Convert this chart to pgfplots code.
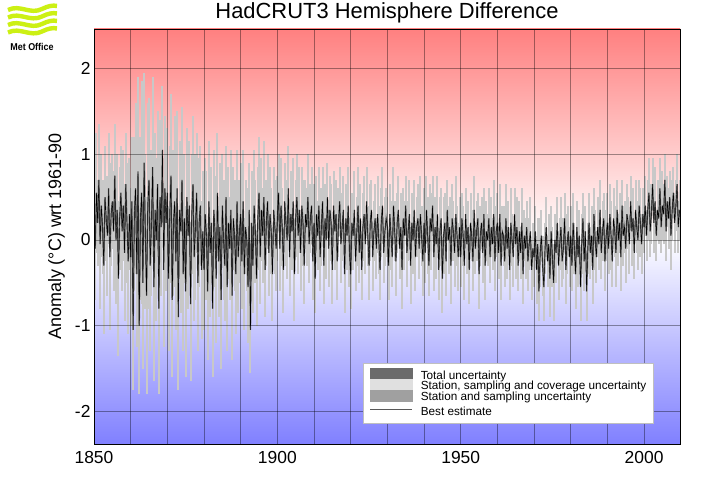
\documentclass[border=0pt]{standalone}
\usepackage{pgfplots}
\pgfplotsset{compat=1.18}
\usepackage{pgfplotstable}
\usepackage{fontspec}
\setmainfont{Liberation Sans}

\definecolor{topred}{RGB}{255,128,128}
\definecolor{botblue}{RGB}{128,128,255}
\definecolor{metlime}{RGB}{204,240,20}
\definecolor{bandlight}{RGB}{200,200,200}
\definecolor{legtotal}{RGB}{107,107,107}
\definecolor{legcover}{RGB}{224,224,224}
\definecolor{legstation}{RGB}{160,160,160}

% hemisphere difference, read every 4 months: year, best estimate, half width of uncertainty
\pgfplotstableread[row sep=\\]{
x y e\\
1850.00 0.35 0.55\\ 1850.33 -0.10 0.60\\ 1850.67 0.55 0.70\\
1851.00 0.20 0.50\\ 1851.33 0.70 0.65\\ 1851.67 -0.05 0.75\\
1852.00 0.40 0.60\\ 1852.33 0.15 0.55\\ 1852.67 -0.30 0.80\\
1853.00 0.50 0.60\\ 1853.33 0.25 0.50\\ 1853.67 0.05 0.70\\
1854.00 0.60 0.65\\ 1854.33 -0.20 0.85\\ 1854.67 0.30 0.60\\
1855.00 0.45 0.55\\ 1855.33 0.10 0.70\\ 1855.67 0.75 0.60\\
1856.00 0.00 0.75\\ 1856.33 0.35 0.65\\ 1856.67 -0.45 0.90\\
1857.00 0.25 0.60\\ 1857.33 0.55 0.55\\ 1857.67 0.10 0.70\\
1858.00 0.40 0.65\\ 1858.33 -0.15 0.80\\ 1858.67 0.65 0.60\\
1859.00 0.20 0.70\\ 1859.33 -0.25 0.85\\ 1859.67 0.30 0.65\\
1860.00 -0.20 0.80\\ 1860.33 0.45 0.75\\ 1860.67 -1.05 0.70\\
1861.00 0.30 0.90\\ 1861.33 0.60 1.00\\ 1861.67 -0.40 0.85\\
1862.00 0.80 1.10\\ 1862.33 -1.00 0.80\\ 1862.67 0.25 0.95\\
1863.00 0.55 1.30\\ 1863.33 -0.50 1.00\\ 1863.67 0.90 1.05\\
1864.00 0.10 0.90\\ 1864.33 -0.65 1.15\\ 1864.67 0.40 1.20\\
1865.00 0.70 0.95\\ 1865.33 -0.30 1.00\\ 1865.67 0.20 0.85\\
1866.00 0.85 1.05\\ 1866.33 -0.55 1.10\\ 1866.67 0.35 0.90\\
1867.00 0.00 0.95\\ 1867.33 0.65 0.85\\ 1867.67 -0.80 1.00\\
1868.00 0.50 0.90\\ 1868.33 0.15 0.80\\ 1868.67 1.05 0.75\\
1869.00 -0.35 0.90\\ 1869.33 0.60 0.85\\ 1869.67 0.20 0.80\\
1870.00 0.55 0.75\\ 1870.33 -0.45 0.85\\ 1870.67 0.30 0.80\\
1871.00 0.75 0.95\\ 1871.33 -0.70 0.90\\ 1871.67 0.20 0.85\\
1872.00 0.45 1.00\\ 1872.33 -0.25 0.80\\ 1872.67 0.60 0.90\\
1873.00 -0.90 0.85\\ 1873.33 0.35 0.80\\ 1873.67 0.10 0.95\\
1874.00 0.70 0.85\\ 1874.33 -0.40 0.90\\ 1874.67 0.25 0.75\\
1875.00 -0.60 1.00\\ 1875.33 0.50 0.80\\ 1875.67 0.05 0.85\\
1876.00 0.40 0.75\\ 1876.33 -0.75 0.90\\ 1876.67 0.30 0.70\\
1877.00 0.65 0.80\\ 1877.33 -0.20 0.75\\ 1877.67 0.15 0.85\\
1878.00 0.55 0.70\\ 1878.33 -0.50 0.80\\ 1878.67 0.20 0.75\\
1879.00 0.40 0.70\\ 1879.33 -0.35 0.80\\ 1879.67 0.10 0.70\\
1880.00 -0.35 0.70\\ 1880.33 0.30 0.65\\ 1880.67 0.05 0.75\\
1881.00 -0.60 0.80\\ 1881.33 0.45 0.70\\ 1881.67 -0.15 0.75\\
1882.00 0.20 0.65\\ 1882.33 -0.80 0.80\\ 1882.67 0.35 0.70\\
1883.00 0.10 0.65\\ 1883.33 -0.45 0.75\\ 1883.67 0.55 0.70\\
1884.00 -0.25 0.65\\ 1884.33 0.15 0.75\\ 1884.67 -0.70 0.80\\
1885.00 0.40 0.60\\ 1885.33 0.00 0.70\\ 1885.67 -0.30 0.65\\
1886.00 0.50 0.60\\ 1886.33 -0.55 0.75\\ 1886.67 0.20 0.65\\
1887.00 -0.10 0.60\\ 1887.33 0.35 0.70\\ 1887.67 -0.65 0.75\\
1888.00 0.25 0.60\\ 1888.33 0.05 0.65\\ 1888.67 -0.40 0.70\\
1889.00 0.45 0.60\\ 1889.33 -0.20 0.65\\ 1889.67 0.10 0.60\\
1890.00 0.30 0.60\\ 1890.33 -0.25 0.55\\ 1890.67 0.45 0.60\\
1891.00 -0.40 0.65\\ 1891.33 0.15 0.55\\ 1891.67 0.00 0.60\\
1892.00 -0.55 0.65\\ 1892.33 0.35 0.55\\ 1892.67 -1.05 0.50\\
1893.00 0.20 0.60\\ 1893.33 -0.30 0.55\\ 1893.67 0.40 0.65\\
1894.00 0.10 0.60\\ 1894.33 -0.45 0.55\\ 1894.67 0.25 0.60\\
1895.00 0.55 0.65\\ 1895.33 -0.20 0.55\\ 1895.67 0.35 0.60\\
1896.00 0.05 0.55\\ 1896.33 0.50 0.65\\ 1896.67 -0.35 0.55\\
1897.00 0.20 0.50\\ 1897.33 0.45 0.55\\ 1897.67 -0.15 0.50\\
1898.00 0.30 0.55\\ 1898.33 0.10 0.50\\ 1898.67 -0.40 0.55\\
1899.00 0.35 0.50\\ 1899.33 0.15 0.55\\ 1899.67 -0.10 0.50\\
1900.00 0.25 0.50\\ 1900.33 0.55 0.45\\ 1900.67 -0.10 0.50\\
1901.00 0.40 0.55\\ 1901.33 0.15 0.45\\ 1901.67 -0.35 0.50\\
1902.00 0.45 0.45\\ 1902.33 0.20 0.50\\ 1902.67 0.00 0.45\\
1903.00 0.60 0.50\\ 1903.33 -0.20 0.45\\ 1903.67 0.30 0.50\\
1904.00 0.10 0.45\\ 1904.33 0.45 0.50\\ 1904.67 -0.40 0.55\\
1905.00 0.25 0.45\\ 1905.33 0.50 0.50\\ 1905.67 0.05 0.45\\
1906.00 0.35 0.50\\ 1906.33 -0.15 0.45\\ 1906.67 0.40 0.45\\
1907.00 0.20 0.50\\ 1907.33 -0.30 0.45\\ 1907.67 0.30 0.40\\
1908.00 0.15 0.45\\ 1908.33 0.50 0.50\\ 1908.67 -0.05 0.45\\
1909.00 0.25 0.40\\ 1909.33 0.40 0.45\\ 1909.67 -0.25 0.45\\
1910.00 0.20 0.45\\ 1910.33 -0.45 0.40\\ 1910.67 0.30 0.45\\
1911.00 0.05 0.40\\ 1911.33 0.40 0.45\\ 1911.67 -0.20 0.40\\
1912.00 0.15 0.45\\ 1912.33 0.45 0.40\\ 1912.67 -0.30 0.45\\
1913.00 0.25 0.40\\ 1913.33 0.00 0.45\\ 1913.67 0.50 0.40\\
1914.00 -0.10 0.45\\ 1914.33 0.35 0.40\\ 1914.67 0.20 0.45\\
1915.00 -0.35 0.40\\ 1915.33 0.40 0.40\\ 1915.67 0.10 0.45\\
1916.00 0.30 0.40\\ 1916.33 -0.25 0.45\\ 1916.67 0.20 0.40\\
1917.00 0.45 0.40\\ 1917.33 -0.05 0.45\\ 1917.67 0.15 0.40\\
1918.00 0.35 0.40\\ 1918.33 -0.40 0.45\\ 1918.67 0.25 0.40\\
1919.00 0.05 0.40\\ 1919.33 0.40 0.45\\ 1919.67 -0.15 0.40\\
1920.00 -0.40 0.40\\ 1920.33 0.20 0.35\\ 1920.67 0.05 0.40\\
1921.00 0.35 0.45\\ 1921.33 -0.25 0.35\\ 1921.67 0.10 0.40\\
1922.00 0.40 0.45\\ 1922.33 -0.15 0.35\\ 1922.67 0.25 0.40\\
1923.00 -0.35 0.35\\ 1923.33 0.15 0.40\\ 1923.67 0.30 0.45\\
1924.00 -0.05 0.35\\ 1924.33 0.45 0.40\\ 1924.67 0.05 0.35\\
1925.00 -0.30 0.40\\ 1925.33 0.20 0.45\\ 1925.67 0.35 0.35\\
1926.00 -0.20 0.40\\ 1926.33 0.10 0.35\\ 1926.67 0.25 0.40\\
1927.00 -0.10 0.35\\ 1927.33 0.30 0.45\\ 1927.67 0.00 0.40\\
1928.00 -0.35 0.35\\ 1928.33 0.20 0.40\\ 1928.67 0.40 0.45\\
1929.00 -0.15 0.35\\ 1929.33 0.10 0.40\\ 1929.67 0.25 0.35\\
1930.00 0.15 0.35\\ 1930.33 -0.30 0.40\\ 1930.67 0.30 0.35\\
1931.00 0.05 0.40\\ 1931.33 -0.20 0.35\\ 1931.67 0.40 0.45\\
1932.00 0.10 0.35\\ 1932.33 -0.25 0.40\\ 1932.67 0.20 0.35\\
1933.00 0.35 0.40\\ 1933.33 -0.10 0.35\\ 1933.67 0.15 0.40\\
1934.00 -0.35 0.45\\ 1934.33 0.25 0.35\\ 1934.67 0.05 0.40\\
1935.00 0.40 0.35\\ 1935.33 -0.15 0.40\\ 1935.67 0.10 0.35\\
1936.00 0.30 0.40\\ 1936.33 -0.30 0.45\\ 1936.67 0.20 0.35\\
1937.00 0.00 0.40\\ 1937.33 0.35 0.35\\ 1937.67 -0.20 0.40\\
1938.00 0.15 0.35\\ 1938.33 0.25 0.40\\ 1938.67 -0.10 0.35\\
1939.00 0.30 0.45\\ 1939.33 0.05 0.35\\ 1939.67 -0.25 0.40\\
1940.00 0.20 0.40\\ 1940.33 -0.15 0.35\\ 1940.67 0.35 0.40\\
1941.00 0.05 0.45\\ 1941.33 -0.30 0.35\\ 1941.67 0.25 0.40\\
1942.00 0.10 0.45\\ 1942.33 0.40 0.35\\ 1942.67 -0.20 0.40\\
1943.00 0.15 0.35\\ 1943.33 -0.05 0.40\\ 1943.67 0.30 0.45\\
1944.00 -0.35 0.35\\ 1944.33 0.10 0.40\\ 1944.67 0.25 0.35\\
1945.00 -0.45 0.40\\ 1945.33 0.05 0.45\\ 1945.67 0.20 0.35\\
1946.00 -0.25 0.40\\ 1946.33 0.35 0.35\\ 1946.67 0.00 0.40\\
1947.00 0.15 0.35\\ 1947.33 -0.30 0.45\\ 1947.67 0.25 0.40\\
1948.00 0.10 0.35\\ 1948.33 -0.15 0.40\\ 1948.67 0.30 0.45\\
1949.00 0.05 0.35\\ 1949.33 -0.20 0.40\\ 1949.67 0.15 0.35\\
1950.00 -0.20 0.35\\ 1950.33 0.25 0.30\\ 1950.67 0.05 0.35\\
1951.00 -0.30 0.40\\ 1951.33 0.30 0.30\\ 1951.67 -0.05 0.35\\
1952.00 0.15 0.30\\ 1952.33 -0.35 0.40\\ 1952.67 0.20 0.35\\
1953.00 0.05 0.30\\ 1953.33 -0.25 0.35\\ 1953.67 0.35 0.40\\
1954.00 -0.10 0.30\\ 1954.33 0.10 0.35\\ 1954.67 0.25 0.30\\
1955.00 -0.40 0.40\\ 1955.33 0.05 0.35\\ 1955.67 0.20 0.30\\
1956.00 -0.15 0.35\\ 1956.33 0.30 0.30\\ 1956.67 -0.30 0.40\\
1957.00 0.10 0.35\\ 1957.33 0.00 0.30\\ 1957.67 0.25 0.35\\
1958.00 -0.20 0.30\\ 1958.33 0.15 0.35\\ 1958.67 -0.05 0.30\\
1959.00 0.30 0.40\\ 1959.33 -0.25 0.35\\ 1959.67 0.10 0.30\\
1960.00 0.20 0.35\\ 1960.33 -0.15 0.30\\ 1960.67 0.30 0.35\\
1961.00 -0.30 0.40\\ 1961.33 0.10 0.30\\ 1961.67 0.05 0.35\\
1962.00 -0.25 0.30\\ 1962.33 0.25 0.40\\ 1962.67 -0.10 0.35\\
1963.00 0.15 0.30\\ 1963.33 -0.35 0.35\\ 1963.67 0.20 0.40\\
1964.00 0.00 0.30\\ 1964.33 -0.20 0.35\\ 1964.67 0.30 0.30\\
1965.00 -0.05 0.40\\ 1965.33 0.15 0.35\\ 1965.67 -0.30 0.30\\
1966.00 0.10 0.35\\ 1966.33 -0.15 0.30\\ 1966.67 0.20 0.40\\
1967.00 -0.40 0.35\\ 1967.33 0.05 0.30\\ 1967.67 -0.10 0.35\\
1968.00 0.15 0.30\\ 1968.33 -0.25 0.35\\ 1968.67 -0.05 0.30\\
1969.00 0.10 0.40\\ 1969.33 -0.35 0.35\\ 1969.67 -0.10 0.30\\
1970.00 -0.20 0.35\\ 1970.33 0.10 0.30\\ 1970.67 -0.35 0.40\\
1971.00 -0.05 0.30\\ 1971.33 -0.60 0.35\\ 1971.67 -0.15 0.40\\
1972.00 0.05 0.30\\ 1972.33 -0.30 0.35\\ 1972.67 -0.55 0.40\\
1973.00 -0.10 0.30\\ 1973.33 0.15 0.35\\ 1973.67 -0.25 0.30\\
1974.00 -0.05 0.35\\ 1974.33 -0.45 0.45\\ 1974.67 0.10 0.30\\
1975.00 -0.20 0.35\\ 1975.33 -0.50 0.45\\ 1975.67 0.00 0.30\\
1976.00 -0.15 0.35\\ 1976.33 0.20 0.30\\ 1976.67 -0.30 0.40\\
1977.00 -0.05 0.30\\ 1977.33 0.15 0.35\\ 1977.67 -0.25 0.30\\
1978.00 -0.10 0.35\\ 1978.33 0.25 0.30\\ 1978.67 -0.35 0.40\\
1979.00 -0.05 0.35\\ 1979.33 0.10 0.30\\ 1979.67 -0.20 0.35\\
1980.00 0.05 0.35\\ 1980.33 -0.30 0.30\\ 1980.67 0.20 0.35\\
1981.00 -0.10 0.30\\ 1981.33 -0.40 0.40\\ 1981.67 0.15 0.30\\
1982.00 -0.20 0.35\\ 1982.33 0.05 0.30\\ 1982.67 -0.55 0.40\\
1983.00 -0.05 0.35\\ 1983.33 0.25 0.30\\ 1983.67 -0.25 0.35\\
1984.00 0.10 0.30\\ 1984.33 -0.60 0.35\\ 1984.67 -0.10 0.30\\
1985.00 0.20 0.35\\ 1985.33 -0.15 0.30\\ 1985.67 0.05 0.35\\
1986.00 -0.35 0.40\\ 1986.33 0.30 0.30\\ 1986.67 0.00 0.35\\
1987.00 -0.20 0.30\\ 1987.33 0.15 0.35\\ 1987.67 -0.05 0.30\\
1988.00 0.35 0.35\\ 1988.33 -0.15 0.30\\ 1988.67 0.10 0.35\\
1989.00 0.25 0.30\\ 1989.33 -0.25 0.35\\ 1989.67 0.05 0.30\\
1990.00 0.20 0.35\\ 1990.33 -0.10 0.30\\ 1990.67 0.30 0.35\\
1991.00 0.05 0.40\\ 1991.33 -0.25 0.30\\ 1991.67 0.25 0.35\\
1992.00 0.10 0.30\\ 1992.33 -0.15 0.40\\ 1992.67 0.35 0.35\\
1993.00 0.00 0.30\\ 1993.33 0.20 0.35\\ 1993.67 -0.20 0.40\\
1994.00 0.40 0.30\\ 1994.33 0.05 0.35\\ 1994.67 0.15 0.30\\
1995.00 -0.10 0.40\\ 1995.33 0.30 0.35\\ 1995.67 0.20 0.30\\
1996.00 -0.05 0.35\\ 1996.33 0.45 0.30\\ 1996.67 0.10 0.40\\
1997.00 0.25 0.35\\ 1997.33 -0.15 0.30\\ 1997.67 0.35 0.35\\
1998.00 0.15 0.30\\ 1998.33 0.00 0.35\\ 1998.67 0.40 0.30\\
1999.00 0.20 0.40\\ 1999.33 -0.05 0.35\\ 1999.67 0.30 0.30\\
2000.00 0.15 0.30\\ 2000.33 0.40 0.35\\ 2000.67 0.05 0.30\\
2001.00 0.35 0.35\\ 2001.33 0.55 0.40\\ 2001.67 0.10 0.30\\
2002.00 0.30 0.35\\ 2002.33 0.65 0.30\\ 2002.67 0.20 0.35\\
2003.00 0.45 0.40\\ 2003.33 0.05 0.30\\ 2003.67 0.35 0.35\\
2004.00 0.25 0.30\\ 2004.33 0.60 0.35\\ 2004.67 0.15 0.30\\
2005.00 0.40 0.40\\ 2005.33 0.30 0.35\\ 2005.67 0.70 0.30\\
2006.00 0.10 0.35\\ 2006.33 0.45 0.30\\ 2006.67 0.25 0.35\\
2007.00 0.50 0.30\\ 2007.33 0.05 0.40\\ 2007.67 0.35 0.35\\
2008.00 0.55 0.30\\ 2008.33 0.20 0.35\\ 2008.67 0.40 0.30\\
2009.00 0.65 0.35\\ 2009.33 0.15 0.30\\ 2009.67 0.35 0.35\\
}\hemdiff

\begin{document}
\begin{tikzpicture}
\useasboundingbox (0,0) rectangle (708bp,504bp);

% Met Office logo
\begin{scope}[metlime, line width=4.4bp]
\foreach \yy in {494,486.5,479,471.5}{
  \draw (8bp,\yy bp) .. controls (20bp,\yy bp+6bp) and (30bp,\yy bp-5bp) .. (42bp,\yy bp+1bp)
        .. controls (48bp,\yy bp+4bp) and (53bp,\yy bp+5bp) .. (57bp,\yy bp+4bp);
}
\end{scope}
\node[font=\bfseries\fontsize{10}{11}\selectfont, inner sep=0pt, xscale=0.9] at (32bp,457bp) {Met Office};

\begin{axis}[
    at={(94bp,60bp)}, anchor=south west,
    scale only axis, width=586bp, height=415bp,
    xmin=1850, xmax=2009.8,
    ymin=-2.38, ymax=2.46,
    xtick={1850,1900,1950,2000},
    minor xtick={1860,1870,1880,1890,1910,1920,1930,1940,1960,1970,1980,1990},
    ytick={-2,-1,0,1,2},
    xmajorgrids, xminorgrids, ymajorgrids,
    grid style={draw=black, opacity=0.38, line width=0.6bp},
    minor grid style={draw=black, opacity=0.38, line width=0.6bp},
    major tick length=0pt, minor tick length=0pt,
    axis line style={black, line width=0.8bp},
    axis on top,
    axis background/.style={top color=topred, bottom color=botblue, middle color=white},
    /pgf/number format/assume math mode=true,
    /pgf/number format/1000 sep={},
    ticklabel style={font=\fontsize{17.5}{20}\selectfont},
    xticklabel style={yshift=-4bp},
    title={HadCRUT3 Hemisphere Difference},
    every axis title/.style={font=\fontsize{22}{26}\selectfont, at={(0.5,1)}, anchor=base, yshift=10bp},
    ylabel={Anomaly (°C) wrt 1961-90},
    ylabel style={font=\fontsize{18}{20}\selectfont, at={(axis description cs:-0.0563,0.5)}, anchor=base},
    legend style={at={(0.459,0.05)}, anchor=south west,
        draw=gray!50, line width=0.4bp, fill=white,
        font=\fontsize{11.8}{12}\selectfont,
        inner xsep=7bp, inner ysep=5bp, row sep=-3bp, column sep=8bp,
        cells={anchor=west},
        nodes={inner sep=0pt, text height=8bp, text depth=3bp}},
]

\addplot[bandlight, line width=0.3bp, forget plot,
    error bars/.cd, y dir=both, y explicit, error mark=none,
    error bar style={bandlight, line width=2bp}]
    table[x=x, y=y, y error=e] {\hemdiff};
\addplot[black!55, line width=1.4bp, forget plot] table[x=x, y=y] {\hemdiff};
\addplot[black, line width=0.45bp, forget plot] table[x=x, y=y] {\hemdiff};

\addlegendimage{legend image code/.code={\fill[legtotal] (0bp,-3bp) rectangle (42bp,8bp);}}
\addlegendentry{Total uncertainty}
\addlegendimage{legend image code/.code={\fill[legcover] (0bp,-3bp) rectangle (42bp,8bp);}}
\addlegendentry{Station, sampling and coverage uncertainty}
\addlegendimage{legend image code/.code={\fill[legstation] (0bp,-3bp) rectangle (42bp,8bp);}}
\addlegendentry{Station and sampling uncertainty}
\addlegendimage{legend image code/.code={\path[draw=none, fill=none] (0bp,-3bp) rectangle (42bp,12bp);
    \draw[black!65, line width=0.6bp] (0bp,3.5bp) -- (42bp,3.5bp);}}
\addlegendentry{Best estimate}

\end{axis}
\end{tikzpicture}
\end{document}
